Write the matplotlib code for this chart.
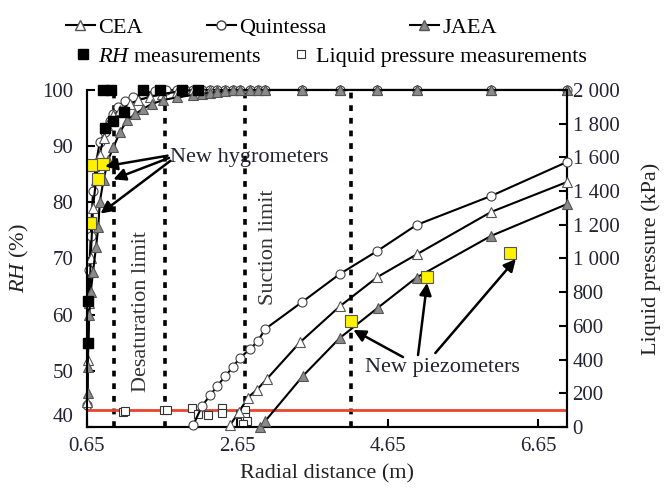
import numpy as np
import matplotlib
matplotlib.use("Agg")
from matplotlib import pyplot as plt
from matplotlib.lines import Line2D

plt.rcParams['font.family'] = ['Liberation Serif', 'DejaVu Serif']
plt.rcParams['mathtext.fontset'] = 'custom'
plt.rcParams['mathtext.rm'] = 'Liberation Serif'
plt.rcParams['mathtext.it'] = 'Liberation Serif:italic'

# ---- data ----
# RH model curves (left axis)
cea_rh_x = [0.65, 0.66, 0.68, 0.70, 0.73, 0.77, 0.82, 0.87, 0.92, 1.00, 1.09, 1.22, 1.33, 1.49,
            1.65, 1.85, 2.06, 2.18, 2.29, 2.38, 2.49, 2.59, 2.68, 2.82, 2.92, 3.02,
            3.51, 4.01, 4.51, 5.03, 6.02, 7.03]
cea_rh = [44.5, 52, 62, 70, 79, 84, 88.5, 91.5, 93.7, 95.5, 96.4, 97.5, 98.2, 98.8,
          99.3, 99.7, 100, 100, 100, 100, 100, 100, 100, 100, 100, 100,
          100, 100, 100, 100, 100, 100]

qui_rh_x = [0.65, 0.66, 0.67, 0.68, 0.70, 0.73, 0.77, 0.82, 0.89, 0.96, 1.00, 1.06, 1.16, 1.26,
            1.40, 1.55, 1.70, 1.85, 1.95, 2.06, 2.18, 2.29, 2.38, 2.49, 2.59, 2.68, 2.82,
            2.92, 3.02, 3.51, 4.01, 4.51, 5.03, 6.02, 7.03]
qui_rh = [44, 55, 62, 68, 74, 82, 87, 90.7, 92.5, 94.4, 95.7, 97.0, 98.0, 98.7,
          99.3, 99.8, 100, 100, 100, 100, 100, 100, 100, 100, 100, 100, 100,
          100, 100, 100, 100, 100, 100, 100, 100]

jaea_rh_x = [0.66, 0.66, 0.68, 0.70, 0.73, 0.77, 0.80, 0.82, 0.87, 0.93, 1.00, 1.09, 1.18, 1.29,
             1.39, 1.51, 1.66, 1.85, 2.06, 2.18, 2.29, 2.38, 2.49, 2.59, 2.68, 2.82, 2.92,
             3.02, 3.51, 4.01, 4.51, 5.03, 6.02, 7.03]
jaea_rh = [46, 50.7, 60, 64, 67.6, 72, 75.6, 80, 84, 87.5, 89.8, 92.5, 94.6, 95.7,
           96.6, 97.5, 98.2, 98.7, 99.1, 99.3, 99.5, 99.6, 99.8, 100, 100, 100, 100,
           100, 100, 100, 100, 100, 100, 100]

# RH measurements
rh_meas_x = [0.66, 0.66, 0.89, 1.00, 1.14, 0.86, 0.97, 1.39, 1.62, 1.91, 2.13]
rh_meas = [55, 62.5, 93.3, 94.4, 96.1, 100, 100, 100, 100, 100, 100]
hygro_x = [0.73, 0.86, 0.80, 0.69]
hygro_rh = [86.6, 86.8, 84.1, 76.3]

# liquid pressure model curves (right axis, kPa)
qui_p_x = [2.06, 2.18, 2.29, 2.38, 2.49, 2.59, 2.68, 2.82, 2.92, 3.02, 3.51, 4.01, 4.51, 5.03, 6.02, 7.03]
qui_p = [10, 125, 190, 243, 303, 356, 410, 463, 510, 582, 742, 908, 1045, 1199, 1371, 1573]
cea_p_x = [2.55, 2.67, 2.79, 2.91, 3.04, 3.48, 4.01, 4.51, 5.03, 6.02, 7.03]
cea_p = [10, 90, 175, 222, 285, 502, 716, 890, 1024, 1276, 1454]
jaea_p_x = [2.95, 3.02, 3.52, 4.01, 4.52, 5.03, 6.02, 7.03]
jaea_p = [0, 36, 303, 528, 709, 887, 1134, 1323]

# liquid pressure measurements
lp_meas_x = [1.13, 1.16, 1.68, 1.72, 2.05, 2.12, 2.26, 2.45, 2.45, 2.68, 2.75, 2.75, 2.78, 2.72]
lp_meas = [90, 97, 100, 100, 110, 80, 70, 110, 85, 80, 100, 60, 35, 20]
piezo_x = [4.16, 5.17, 6.27]
piezo_p = [629, 890, 1033]

limit_lines = [1.01, 1.69, 2.75, 4.16]
atm_p = 100

x_ticks = [0.65, 2.65, 4.65, 6.65]
x_labels = ['0.65', '2.65', '4.65', '6.65']
rh_ticks = [40, 50, 60, 70, 80, 90, 100]
rh_labels = ['', '50', '60', '70', '80', '90', '100']
p_ticks = [0, 200, 400, 600, 800, 1000, 1200, 1400, 1600, 1800, 2000]
p_labels = ['0', '200', '400', '600', '800', '1 000', '1 200', '1 400', '1 600', '1 800', '2 000']

# ---- figure ----
fig = plt.figure(figsize=(6.67, 4.92), dpi=100)
ax = fig.add_axes([0.1304, 0.1321, 0.7197, 0.685])
ax2 = ax.twinx()

tc = '#222233'
for a in (ax, ax2):
    a.spines['top'].set_visible(False)
    for s in ('left', 'right', 'bottom'):
        a.spines[s].set_linewidth(1.5)

# limit lines
for xv in limit_lines:
    ax.axvline(xv, color='black', lw=2.6, linestyle=(0, (1.6, 1.9)), zorder=1)

line_kw = dict(color='black', lw=1.5, ms=6.5, mew=0.8)
ax.plot(qui_rh_x, qui_rh, marker='o', mfc='white', mec='#444444', clip_on=False, zorder=3, **line_kw)
ax.plot(cea_rh_x, cea_rh, marker='^', mfc='white', mec='#555555', clip_on=False, zorder=3, **line_kw)
ax.plot(jaea_rh_x, jaea_rh, marker='^', mfc='#8a8a8a', mec='#555555', clip_on=False, zorder=3, **line_kw)
ax.plot(rh_meas_x, rh_meas, 's', color='black', ms=7, clip_on=False, zorder=4)
ax.plot(hygro_x, hygro_rh, 's', mfc='#fff200', mec='#555555', ms=8, mew=0.8, zorder=5)

ax2.axhline(atm_p, color='#e8452c', lw=2, zorder=1)
ax2.plot(lp_meas_x, lp_meas, 's', mfc='white', mec='#333333', ms=6, mew=0.8, zorder=2)
ax2.plot(qui_p_x, qui_p, marker='o', mfc='white', mec='#444444', clip_on=False, zorder=3, **line_kw)
ax2.plot(cea_p_x, cea_p, marker='^', mfc='white', mec='#555555', clip_on=False, zorder=3, **line_kw)
ax2.plot(jaea_p_x, jaea_p, marker='^', mfc='#8a8a8a', mec='#555555', clip_on=False, zorder=3, **line_kw)
ax2.plot(piezo_x, piezo_p, 's', mfc='#fff200', mec='#555555', ms=8.5, mew=0.8, zorder=5)

ax.set_xlim(0.65, 7.03)
ax.set_ylim(40, 100)
ax2.set_ylim(0, 2000)

ax.set_xticks(x_ticks)
ax.set_xticklabels(x_labels)
ax.set_yticks(rh_ticks)
ax.set_yticklabels(rh_labels)
ax2.set_yticks(p_ticks)
ax2.set_yticklabels(p_labels)
ax.tick_params(axis='x', direction='in', length=6, width=1.5, labelsize=15, pad=7, colors='black', labelcolor=tc)
ax.tick_params(axis='y', direction='in', length=6, width=1.5, labelsize=15, pad=10, labelcolor=tc)
ax2.tick_params(axis='y', direction='in', length=6, width=1.5, labelsize=15, pad=4, labelcolor=tc)
# raised "40" label
ax.annotate('40', xy=(0, 40), xycoords=('axes fraction', 'data'), xytext=(-10, 7),
            textcoords='offset points', ha='right', va='center', fontsize=15, color=tc)

ax.set_xlabel('Radial distance (m)', fontsize=16, labelpad=6, color='#222222')
ax.set_ylabel(r'$\mathit{RH}$ (%)', fontsize=16, labelpad=8, color='#222222')
ax2.set_ylabel('Liquid pressure (kPa)', fontsize=16, labelpad=16, color='#222222')

# text labels
ax.text(1.37, 60.6, 'Desaturation limit', rotation=90, ha='center', va='center', fontsize=16, color='#333333')
ax.text(3.06, 72.0, 'Suction limit', rotation=90, ha='center', va='center', fontsize=16, color='#333333')

arr = dict(arrowstyle='-|>', color='black', lw=1.8, mutation_scale=18, shrinkA=0, shrinkB=0)
ax.text(1.75, 88.0, 'New hygrometers', ha='left', va='center', fontsize=16, color='#222233')
for tail, head in [((1.72, 88.3), (0.89, 86.4)), ((1.74, 87.9), (1.00, 84.1)), ((1.76, 87.4), (0.83, 78.0))]:
    ax.annotate('', xy=head, xytext=tail, arrowprops=arr, zorder=6)

ax2.text(4.35, 356, 'New piezometers', ha='left', va='center', fontsize=16, color='#222233')
for tail, head in [((4.85, 415), (4.19, 576)), ((5.05, 427), (5.17, 855)), ((5.28, 439), (6.35, 997))]:
    ax2.annotate('', xy=head, xytext=tail, arrowprops=arr, zorder=6)

# legend rows
W, H = 667.0, 492.0
leg_kw = dict(loc='center left', frameon=False, fontsize=16, borderpad=0, borderaxespad=0, numpoints=1)
row1 = [
    (Line2D([], [], color='black', lw=1.5, marker='^', mfc='white', mec='#555555', ms=6.5), 'CEA', 66),
    (Line2D([], [], color='black', lw=1.5, marker='o', mfc='white', mec='#444444', ms=6.5), 'Quintessa', 207),
    (Line2D([], [], color='black', lw=1.5, marker='^', mfc='#8a8a8a', mec='#555555', ms=6.5), 'JAEA', 410),
]
for h, lab, px in row1:
    fig.legend([h], [lab], bbox_to_anchor=(px / W, 1 - 28 / H), handlelength=1.3, handletextpad=0.15, **leg_kw)
row2 = [
    (Line2D([], [], ls='none', marker='s', color='black', ms=6.5), r'$\mathit{RH}$ measurements', 74),
    (Line2D([], [], ls='none', marker='s', mfc='white', mec='#333333', ms=6, mew=0.8), 'Liquid pressure measurements', 292),
]
for h, lab, px in row2:
    fig.legend([h], [lab], bbox_to_anchor=(px / W, 1 - 57 / H), handlelength=0.8, handletextpad=0.3, **leg_kw)

fig.savefig('out.png', dpi=100)
